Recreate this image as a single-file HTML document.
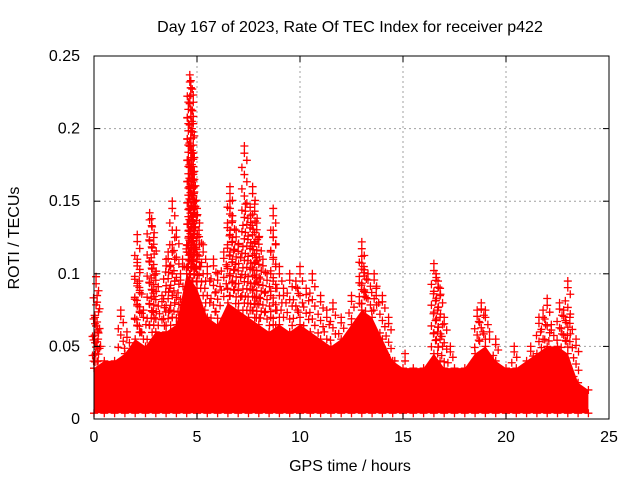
<!DOCTYPE html>
<html><head><meta charset="utf-8"><style>
body{margin:0;background:#fff;}
svg text{font-family:"Liberation Sans",sans-serif;font-size:16px;fill:#000;}
</style></head><body>
<svg width="640" height="480" id="c">
<rect width="640" height="480" fill="#fff"/>
<text x="350" y="32" text-anchor="middle">Day 167 of 2023, Rate Of TEC Index for receiver p422</text>
<text x="350" y="471" text-anchor="middle">GPS time / hours</text>
<text transform="translate(19,238) rotate(-90)" text-anchor="middle">ROTI / TECUs</text>
<g id="grid"></g><g id="marks"></g><g id="axes"></g>
</svg>
<script>
const xTicks=[0,5,10,15,20,25];
const yTicks=[0,0.05,0.1,0.15,0.2,0.25];
const yTickLabels=["0","0.05","0.1","0.15","0.2","0.25"];
const envTimes=[0,0.5,1,1.5,2,2.5,3,3.5,4,4.5,5,5.5,6,6.5,7,7.5,8,8.5,9,9.5,10,10.5,11,11.5,12,12.5,13,13.5,14,14.5,15,15.5,16,16.5,17,17.5,18,18.5,19,19.5,20,20.5,21,21.5,22,22.5,23,23.5,24];
const envTop=[0.035,0.04,0.04,0.045,0.055,0.05,0.06,0.06,0.065,0.1,0.09,0.07,0.065,0.08,0.075,0.07,0.065,0.06,0.065,0.06,0.065,0.06,0.055,0.05,0.055,0.065,0.075,0.07,0.055,0.04,0.035,0.035,0.035,0.045,0.035,0.035,0.035,0.045,0.05,0.04,0.035,0.035,0.04,0.045,0.05,0.05,0.045,0.025,0.02];
const envBase=0.004;
const spikeTimes=[0.05,0.1,0.15,0.2,1.3,1.6,2.1,2.1,2.2,2.4,2.7,2.8,2.9,3.0,3.3,3.5,3.6,3.8,3.8,4.0,4.2,4.3,4.5,4.6,4.65,4.7,4.7,4.65,4.75,4.7,4.75,4.8,4.85,4.9,5.0,5.1,5.3,5.5,5.8,6.0,6.3,6.6,6.6,6.7,6.9,7.0,7.3,7.35,7.6,7.7,7.8,7.9,8.0,8.2,8.4,8.7,8.7,9.0,9.2,9.5,9.8,10.0,10.3,10.6,11.0,11.3,11.6,12.0,12.5,13.0,13.0,13.1,13.3,13.6,13.7,14.0,14.3,14.6,15.1,16.5,16.6,16.7,16.8,17.0,17.3,18.6,18.8,19.0,19.2,19.5,20.4,21.2,21.6,21.8,22.0,22.2,22.6,22.8,23.0,23.1,23.4];
const spikeValues=[0.07,0.098,0.085,0.06,0.075,0.06,0.127,0.11,0.095,0.075,0.142,0.138,0.125,0.1,0.085,0.11,0.115,0.15,0.12,0.13,0.1,0.11,0.12,0.13,0.237,0.233,0.228,0.222,0.205,0.193,0.18,0.17,0.16,0.15,0.145,0.13,0.12,0.105,0.11,0.1,0.115,0.16,0.15,0.14,0.13,0.12,0.188,0.148,0.14,0.16,0.148,0.135,0.125,0.11,0.1,0.145,0.13,0.105,0.09,0.1,0.095,0.105,0.09,0.1,0.085,0.075,0.08,0.07,0.085,0.122,0.112,0.105,0.1,0.1,0.09,0.085,0.07,0.04,0.045,0.107,0.1,0.095,0.09,0.07,0.05,0.075,0.08,0.075,0.06,0.055,0.05,0.05,0.07,0.075,0.083,0.065,0.08,0.075,0.095,0.07,0.055];

const X0=94,X1=609,Y0=419,Y1=56;
const xs=t=>X0+(t-0)/25*(X1-X0);
const ys=v=>Y0-(v-0)/0.25*(Y0-Y1);
const NS="http://www.w3.org/2000/svg";
function mk(tag,attrs,parent){const e=document.createElementNS(NS,tag);for(const k in attrs)e.setAttribute(k,attrs[k]);parent.appendChild(e);return e;}
const grid=document.getElementById('grid'),marks=document.getElementById('marks'),axes=document.getElementById('axes');
xTicks.forEach((t,i)=>{
  if(i>0&&i<xTicks.length-1){const g=mk('line',{x1:xs(t),x2:xs(t),y1:Y1,y2:Y0,stroke:'#a0a0a0','stroke-dasharray':'2,3'},grid);
  
  }
  const l=mk('text',{x:xs(t),y:Y0+23,'text-anchor':'middle'},axes);l.textContent=t;
  
  
  mk('line',{x1:xs(t),x2:xs(t),y1:Y0,y2:Y0-6,stroke:'#000'},axes);
  mk('line',{x1:xs(t),x2:xs(t),y1:Y1,y2:Y1+6,stroke:'#000'},axes);
});
yTicks.forEach((v,i)=>{
  if(i>0&&i<yTicks.length-1){const g=mk('line',{x1:X0,x2:X1,y1:ys(v),y2:ys(v),stroke:'#a0a0a0','stroke-dasharray':'2,3'},grid);
  
  }
  const l=mk('text',{x:X0-14,y:ys(v)+5,'text-anchor':'end'},axes);l.textContent=yTickLabels[i];
  
  
  mk('line',{x1:X0,x2:X0+6,y1:ys(v),y2:ys(v),stroke:'#000'},axes);
  mk('line',{x1:X1,x2:X1-6,y1:ys(v),y2:ys(v),stroke:'#000'},axes);
});
const fr=mk('rect',{x:X0,y:Y1,width:X1-X0,height:Y0-Y1,fill:'none',stroke:'#000'},axes);


let pts=envTimes.map((t,i)=>xs(t)+','+ys(envTop[i]));
pts.push(xs(envTimes[envTimes.length-1])+','+ys(envBase));pts.push(xs(envTimes[0])+','+ys(envBase));
const poly=mk('polygon',{points:pts.join(' '),fill:'#ff0000'},marks);


function cross(t,v){
  const x=xs(t),y=ys(v);
  const p=mk('path',{d:`M${x-4},${y}h8M${x},${y-4}v8`,stroke:'#ff0000','stroke-width':1.3,fill:'none'},marks);
  
  
}
envTimes.forEach((t,i)=>{cross(t,envTop[i]);cross(t,envBase);});
spikeTimes.forEach((t,i)=>{
  cross(t,spikeValues[i]);
  const j=Math.min(envTop.length-1,Math.round(t/0.5));
  const top=envTop[j];
  const n=Math.max(0,Math.floor((spikeValues[i]-top)/0.005));
  for(let k=1;k<=n;k++){
    const v=spikeValues[i]-k*(spikeValues[i]-top)/(n+1);
    cross(t+((k%3)-1)*0.12,v);
  }
});
</script>
</body></html>
